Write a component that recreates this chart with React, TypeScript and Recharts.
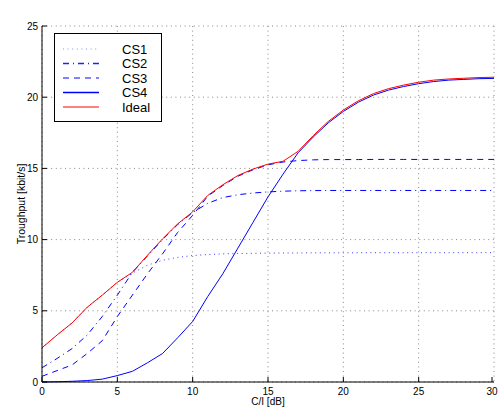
import { LineChart, Line, XAxis, YAxis, CartesianGrid, Legend } from "recharts";

const snrDb = [0, 1, 2, 3, 4, 5, 6, 7, 8, 9, 10, 11, 12, 13, 14, 15, 16, 17, 18, 19, 20, 21, 22, 23, 24, 25, 26, 27, 28, 29, 30];

const cs1 = [2.4, 3.3, 4.15, 5.25, 6.1, 7.0, 7.65, 8.2, 8.55, 8.75, 8.88, 8.95, 9.0, 9.02, 9.04, 9.05, 9.06, 9.06, 9.07, 9.07, 9.07, 9.08, 9.08, 9.08, 9.08, 9.08, 9.08, 9.08, 9.08, 9.08, 9.08];
const cs2 = [1.0, 1.65, 2.35, 3.3, 4.6, 6.1, 7.7, 8.85, 10.0, 11.05, 11.9, 12.55, 12.95, 13.15, 13.27, 13.35, 13.4, 13.43, 13.44, 13.45, 13.45, 13.45, 13.45, 13.45, 13.45, 13.45, 13.45, 13.45, 13.45, 13.45, 13.45];
const cs3 = [0.4, 0.8, 1.2, 2.0, 2.9, 4.6, 6.1, 7.6, 9.0, 10.5, 11.7, 13.05, 13.8, 14.45, 14.9, 15.25, 15.45, 15.55, 15.6, 15.62, 15.62, 15.62, 15.63, 15.63, 15.63, 15.63, 15.63, 15.63, 15.63, 15.63, 15.63];
const cs4 = [0.0, 0.02, 0.05, 0.1, 0.2, 0.45, 0.75, 1.35, 2.0, 3.1, 4.25, 6.0, 7.6, 9.4, 11.2, 13.0, 14.6, 16.1, 17.2, 18.2, 19.0, 19.65, 20.15, 20.5, 20.75, 20.95, 21.1, 21.2, 21.25, 21.3, 21.32];
const ideal = [2.4, 3.3, 4.15, 5.25, 6.1, 7.0, 7.7, 8.9, 10.05, 11.1, 11.95, 13.1, 13.85, 14.5, 14.95, 15.3, 15.5, 16.2, 17.3, 18.3, 19.1, 19.75, 20.25, 20.6, 20.85, 21.05, 21.2, 21.28, 21.33, 21.38, 21.4];

const xTicks = [0, 5, 10, 15, 20, 25, 30];
const yTicks = [0, 5, 10, 15, 20, 25];

const series = [
  { key: "cs1", name: "CS1", color: "#3a3aff", dash: "1 3.6", legendColor: "#8c8cff", legendWidth: 1 },
  { key: "cs2", name: "CS2", color: "#0000ff", dash: "6 4 1 4", legendColor: "#2020ff", legendWidth: 1.5 },
  { key: "cs3", name: "CS3", color: "#0000ff", dash: "6 5", legendColor: "#5a5aff", legendWidth: 1.5 },
  { key: "cs4", name: "CS4", color: "#0000ff", dash: undefined, legendColor: "#0000ff", legendWidth: 1.5 },
  { key: "ideal", name: "Ideal", color: "#ff0000", dash: undefined, legendColor: "#ff8080", legendWidth: 2 },
];

const rows = snrDb.map((x, i) => ({
  x,
  cs1: cs1[i],
  cs2: cs2[i],
  cs3: cs3[i],
  cs4: cs4[i],
  ideal: ideal[i],
}));

const FONT = "'Liberation Sans', Arial, Helvetica, sans-serif";
const TICK = 5;

const BottomTick = ({ x, y, payload }: any) => (
  <g>
    <line x1={x} x2={x} y1={y} y2={y - TICK} stroke="#000" />
    <text x={x} y={y + 13} textAnchor="middle" fontSize={10} fontFamily={FONT} fill="#000">
      {payload.value}
    </text>
  </g>
);

const LeftTick = ({ x, y, payload }: any) => (
  <g>
    <line x1={x} x2={x + TICK} y1={y} y2={y} stroke="#000" />
    <text x={x - 4} y={y + 3.5} textAnchor="end" fontSize={10} fontFamily={FONT} fill="#000">
      {payload.value}
    </text>
  </g>
);

const TopTick = ({ x, y }: any) => <line x1={x} x2={x} y1={y} y2={y + TICK} stroke="#000" />;
const RightTick = ({ x, y }: any) => <line x1={x} x2={x - TICK} y1={y} y2={y} stroke="#000" />;

const TitleLabel = ({ viewBox }: any) => (
  <text x={viewBox.x + viewBox.width / 2} y={viewBox.y - 9} textAnchor="middle" fontSize={10} fontFamily={FONT} fill="#000">
    Throughput for different coding schemes
  </text>
);

const XLabel = ({ viewBox }: any) => (
  <text x={viewBox.x + viewBox.width / 2} y={viewBox.y + 23} textAnchor="middle" fontSize={10} fontFamily={FONT} fill="#000">
    C/I [dB]
  </text>
);

const YLabel = ({ viewBox }: any) => {
  const cx = 24.5;
  const cy = viewBox.y + viewBox.height / 2;
  return (
    <text x={cx} y={cy} transform={`rotate(-90 ${cx} ${cy})`} textAnchor="middle" fontSize={10.5} fontFamily={FONT} fill="#000">
      Troughput [kbit/s]
    </text>
  );
};

const LegendBox = () => (
  <div style={{ width: 108, height: 89, border: "1.5px solid #000", background: "#fff", boxSizing: "border-box" }}>
    <svg width={105} height={86} style={{ display: "block" }}>
      {series.map((s, i) => {
        const cy = 15 + i * 14.5;
        return (
          <g key={s.key}>
            <line x1={8} x2={44} y1={cy} y2={cy} stroke={s.legendColor} strokeWidth={s.legendWidth} strokeDasharray={s.dash} />
            <text x={67} y={cy + 4.5} fontSize={13} fontFamily={FONT} fill="#000">
              {s.name}
            </text>
          </g>
        );
      })}
    </svg>
  </div>
);

export default function App() {
  return (
    <div style={{ position: "absolute", left: 0, top: 0, width: 500, height: 410, background: "#fff" }}>
      <LineChart width={500} height={410} data={rows} margin={{ top: 26, right: 6, bottom: 0, left: 0 }}>
        <CartesianGrid stroke="#888" strokeWidth={1} strokeDasharray="1 3.6" />
        <XAxis
          dataKey="x"
          type="number"
          domain={[0, 30]}
          ticks={xTicks}
          height={28}
          tickSize={0}
          tickMargin={0}
          tick={<BottomTick />}
          axisLine={{ stroke: "#000" }}
          tickLine={false}
          label={<XLabel />}
        />
        <XAxis
          xAxisId="top"
          orientation="top"
          dataKey="x"
          type="number"
          domain={[0, 30]}
          ticks={xTicks}
          height={0}
          tickSize={0}
          tickMargin={0}
          tick={<TopTick />}
          axisLine={{ stroke: "#000" }}
          tickLine={false}
          label={<TitleLabel />}
        />
        <YAxis
          type="number"
          domain={[0, 25]}
          ticks={yTicks}
          width={42}
          tickSize={0}
          tickMargin={0}
          tick={<LeftTick />}
          axisLine={{ stroke: "#000" }}
          tickLine={false}
          label={<YLabel />}
        />
        <YAxis
          yAxisId="right"
          orientation="right"
          type="number"
          domain={[0, 25]}
          ticks={yTicks}
          width={0}
          tickSize={0}
          tickMargin={0}
          tick={<RightTick />}
          axisLine={{ stroke: "#000" }}
          tickLine={false}
        />
        <Legend
          layout="horizontal"
          verticalAlign="middle"
          align="center"
          content={<LegendBox />}
          wrapperStyle={{ left: 54, top: 33, width: 108, height: 89 }}
        />
        {series.map((s) => (
          <Line
            key={s.key}
            type="linear"
            dataKey={s.key}
            name={s.name}
            stroke={s.color}
            strokeWidth={1}
            strokeDasharray={s.dash}
            dot={false}
            activeDot={false}
            isAnimationActive={false}
          />
        ))}
      </LineChart>
    </div>
  );
}
